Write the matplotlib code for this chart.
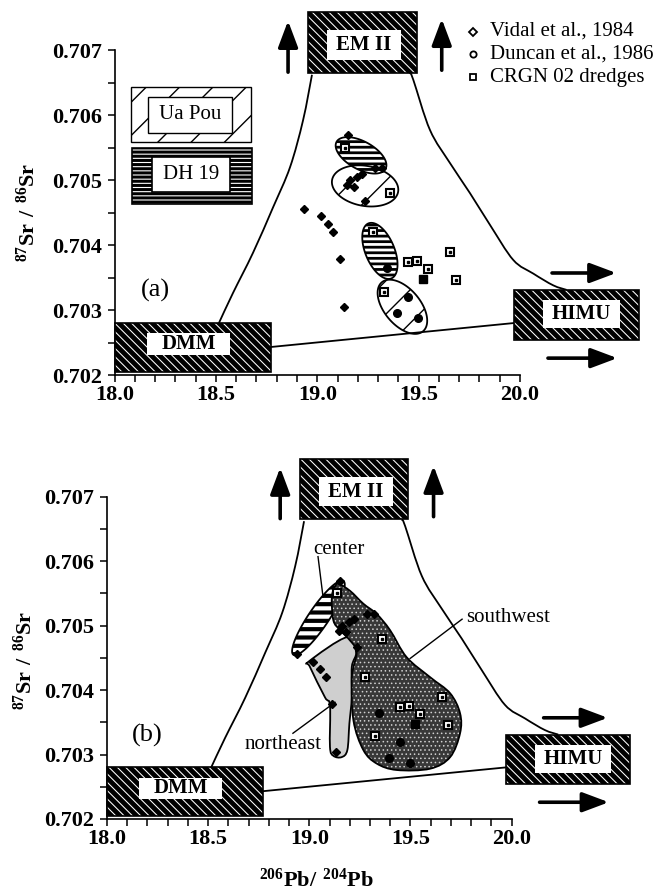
import numpy as np
import matplotlib
matplotlib.use('Agg')
from matplotlib import pyplot as plt
from matplotlib.patches import Rectangle, PathPatch
from matplotlib.path import Path
from matplotlib.ticker import MultipleLocator, FormatStrFormatter

plt.rcParams['font.family'] = ['Liberation Serif', 'DejaVu Serif']
plt.rcParams['mathtext.fontset'] = 'custom'
plt.rcParams['mathtext.rm'] = 'Liberation Serif'
plt.rcParams['mathtext.bf'] = 'Liberation Serif:bold'
plt.rcParams['hatch.linewidth'] = 1.0

# ---- samples (206Pb/204Pb, 87Sr/86Sr)
vidal_pb = [19.151, 18.937, 19.020, 19.051, 19.080, 19.113, 19.134, 19.163,
            19.196, 19.220, 19.146, 19.179, 19.236, 19.286, 19.319]
vidal_sr = [0.70569, 0.70456, 0.70444, 0.70432, 0.70420, 0.70378, 0.70304, 0.70500,
            0.70505, 0.70510, 0.70492, 0.70490, 0.70467, 0.70518, 0.70518]
duncan_pb = [19.450, 19.395, 19.499, 19.343]
duncan_sr = [0.70320, 0.70295, 0.70287, 0.70364]
crgn_pb = [19.138, 19.277, 19.655, 19.450, 19.491, 19.548, 19.683, 19.327, 19.360]
crgn_sr = [0.70550, 0.70420, 0.70390, 0.70374, 0.70375, 0.70363, 0.70346, 0.70328, 0.70480]
crgn_solid_pb = [19.524]
crgn_solid_sr = [0.70348]
legend_labels = ['Vidal et al., 1984', 'Duncan et al., 1986', 'CRGN 02 dredges']

# ---- mantle end-members: outer box and inner label box (x0, x1, y0, y1)
em2_box = [18.956, 19.490, 0.70665, 0.70758]
em2_inner = [19.048, 19.413, 0.70685, 0.70731]
himu_box = [19.970, 20.586, 0.70254, 0.70331]
himu_inner = [20.113, 20.493, 0.70272, 0.70315]
dmm_box = [18.000, 18.770, 0.70205, 0.70280]
dmm_inner = [18.159, 18.570, 0.70231, 0.70264]

# ---- pattern key boxes (panel a)
uapou_box = [18.081, 18.673, 0.70559, 0.70643]
uapou_inner = [18.167, 18.578, 0.70573, 0.70628]
dh19_box = [18.085, 18.677, 0.70463, 0.70549]
dh19_inner = [18.183, 18.570, 0.70481, 0.70536]

# ---- mixing curves
em2_dmm_pb = [18.515, 18.584, 18.683, 18.782, 18.866, 18.930, 18.974]
em2_dmm_sr = [0.70280, 0.70326, 0.70388, 0.70458, 0.70520, 0.70592, 0.70662]
em2_himu_pb = [19.457, 19.474, 19.556, 19.655, 19.753, 19.852, 19.967, 20.066, 20.164, 20.230]
em2_himu_sr = [0.70665, 0.70654, 0.70577, 0.70526, 0.70480, 0.70431, 0.70377, 0.70356, 0.70338, 0.70331]
dmm_himu_pb = [18.767, 19.970]
dmm_himu_sr = [0.70243, 0.70280]

# ---- fields of panel (a): centre, two half axes
fields_a = {
    'dh19_upper': ([19.216, 0.70538], [0.1208, -0.000208], [-0.0330, -0.000188]),
    'uapou_upper': ([19.236, 0.70491], [0.1628, -0.0000923], [-0.0178, -0.000303]),
    'dh19_lower': ([19.309, 0.70391], [0.0567, -0.000423], [-0.0660, -0.0000862]),
    'uapou_lower': ([19.420, 0.70305], [0.1016, -0.000377], [-0.0681, -0.000178]),
}

# ---- fields of panel (b)
center_field = ([19.045, 0.70512], [0.1236, 0.000573], [0.0410, -0.0000870])
northeast_pb = [19.000, 19.185, 19.231, 19.210, 19.210, 19.198, 19.188, 19.160,
                19.119, 19.102, 19.102, 19.077, 19.003]
northeast_sr = [0.70445, 0.70482, 0.70459, 0.70436, 0.70389, 0.70348, 0.70307, 0.70296,
                0.70298, 0.70312, 0.70376, 0.70389, 0.70436]
southwest_pb = [19.143, 19.201, 19.267, 19.333, 19.399, 19.481, 19.597, 19.696, 19.745,
                19.745, 19.696, 19.597, 19.432, 19.333, 19.267, 19.218, 19.210, 19.234,
                19.201, 19.152, 19.119, 19.111, 19.127]
southwest_sr = [0.70565, 0.70554, 0.70534, 0.70518, 0.70493, 0.70451, 0.70420, 0.70395, 0.70364,
                0.70333, 0.70296, 0.70278, 0.70276, 0.70286, 0.70307, 0.70353, 0.70420, 0.70459,
                0.70477, 0.70493, 0.70508, 0.70544, 0.70560]


def ellipse_path(c, u, v, n=120):
    t = np.linspace(0, 2 * np.pi, n)
    x = c[0] + u[0] * np.cos(t) + v[0] * np.sin(t)
    y = c[1] + u[1] * np.cos(t) + v[1] * np.sin(t)
    return Path(np.column_stack([x, y]), closed=True)


def smooth_path(xs, ys, closed=True):
    pts = np.column_stack([xs, ys])
    n = len(pts)
    verts, codes = [pts[0]], [Path.MOVETO]
    last = n if closed else n - 1
    for i in range(last):
        p0 = pts[i - 1] if (closed or i > 0) else pts[i]
        p1, p2 = pts[i], pts[(i + 1) % n]
        p3 = pts[(i + 2) % n] if (closed or i + 2 < n) else p2
        verts += [p1 + (p2 - p0) / 6, p2 - (p3 - p1) / 6, p2]
        codes += [Path.CURVE4] * 3
    return Path(verts, codes)


def hatch_width(patch, lw):
    if hasattr(patch, 'set_hatch_linewidth'):
        patch.set_hatch_linewidth(lw)
    return patch


def add_field(ax, path, fc='white', hatch=None, hatch_color='black', hlw=1.0, z=2):
    p = PathPatch(path, fc=fc, ec=hatch_color, lw=0, hatch=hatch, zorder=z)
    ax.add_patch(hatch_width(p, hlw))
    ax.add_patch(PathPatch(path, fc='none', ec='black', lw=1.3, zorder=z + 0.1))


def rect(ax, box, hlw=None, **kw):
    x0, x1, y0, y1 = box
    r = Rectangle((x0, y0), x1 - x0, y1 - y0, clip_on=False, **kw)
    if hlw is not None:
        hatch_width(r, hlw)
    ax.add_patch(r)
    return r


def endmember(ax, box, inner, label):
    rect(ax, box, fc='black', ec='none', zorder=5)
    rect(ax, box, fc='none', ec='white', lw=0, hatch='\\\\\\\\', hlw=0.75, zorder=5.1)
    rect(ax, box, fc='none', ec='black', lw=1.2, zorder=5.2)
    rect(ax, inner, fc='white', ec='none', zorder=5.3)
    ax.text((inner[0] + inner[1]) / 2, (inner[2] + inner[3]) / 2, label, ha='center',
            va='center', fontsize=15, fontweight='bold', zorder=6)


def arrow(ax, tail, tip):
    ax.annotate('', xy=tip, xytext=tail, annotation_clip=False,
                arrowprops=dict(arrowstyle='-|>,head_length=0.8,head_width=0.3', lw=2.6,
                                color='black', mutation_scale=20, shrinkA=0, shrinkB=0))


def draw_points(ax):
    ax.plot(vidal_pb, vidal_sr, 'D', ms=4.2, color='black', zorder=8)
    ax.plot(duncan_pb, duncan_sr, 'o', ms=5.5, color='black', zorder=8)
    ax.plot(crgn_pb, crgn_sr, 's', ms=6, mfc='white', mec='black', mew=1.5, zorder=8)
    ax.plot(crgn_pb, crgn_sr, 's', ms=1.8, color='black', zorder=8.1)
    ax.plot(crgn_solid_pb, crgn_solid_sr, 's', ms=6, color='black', zorder=8)


def frame(ax, tag):
    ax.set_xlim(18.0, 20.0)
    ax.set_ylim(0.702, 0.707)
    ax.spines['top'].set_visible(False)
    ax.spines['right'].set_visible(False)
    for s in ('left', 'bottom'):
        ax.spines[s].set_linewidth(1.2)
    ax.xaxis.set_major_locator(MultipleLocator(0.5))
    ax.xaxis.set_minor_locator(MultipleLocator(0.1))
    ax.yaxis.set_major_locator(MultipleLocator(0.001))
    ax.yaxis.set_minor_locator(MultipleLocator(0.0005))
    ax.xaxis.set_major_formatter(FormatStrFormatter('%.1f'))
    ax.yaxis.set_major_formatter(FormatStrFormatter('%.3f'))
    ax.tick_params(which='both', direction='out', length=5, width=1.1)
    ax.tick_params(axis='x', pad=2)
    ax.tick_params(axis='y', pad=4)
    for lab in ax.get_xticklabels() + ax.get_yticklabels():
        lab.set_fontsize(16)
        lab.set_fontweight('bold')
    ax.text(18.2, 0.7033, tag, fontsize=19, ha='center', va='center')

    for xs, ys in ((em2_dmm_pb, em2_dmm_sr), (em2_himu_pb, em2_himu_sr)):
        ax.add_patch(PathPatch(smooth_path(xs, ys, closed=False), fc='none', ec='black',
                               lw=1.3, zorder=4, clip_on=False))
    ax.plot(dmm_himu_pb, dmm_himu_sr, color='black', lw=1.3, zorder=4, clip_on=False)

    endmember(ax, em2_box, em2_inner, 'EM II')
    endmember(ax, himu_box, himu_inner, 'HIMU')
    endmember(ax, dmm_box, dmm_inner, 'DMM')
    arrow(ax, (18.856, 0.70666), (18.856, 0.70745))
    arrow(ax, (19.614, 0.70669), (19.614, 0.70748))
    arrow(ax, (20.158, 0.70357), (20.475, 0.70357))
    arrow(ax, (20.138, 0.70226), (20.480, 0.70226))


fig = plt.figure(figsize=(6.72, 8.94), dpi=100)
ax_a = fig.add_axes([0.1704, 0.5805, 0.6034, 0.3635])
ax_b = fig.add_axes([0.1592, 0.0839, 0.6022, 0.3605])

# ---------- panel (a)
frame(ax_a, '(a)')
add_field(ax_a, ellipse_path(*fields_a['uapou_upper']), hatch='/')
add_field(ax_a, ellipse_path(*fields_a['dh19_upper']), hatch='---', hlw=2.0)
add_field(ax_a, ellipse_path(*fields_a['dh19_lower']), hatch='---', hlw=2.0)
add_field(ax_a, ellipse_path(*fields_a['uapou_lower']), hatch='/')
draw_points(ax_a)

rect(ax_a, uapou_box, fc='white', ec='black', lw=1.0, hatch='/', zorder=5)
rect(ax_a, uapou_inner, fc='white', ec='black', lw=1.0, zorder=5.1)
ax_a.text((uapou_inner[0] + uapou_inner[1]) / 2, (uapou_inner[2] + uapou_inner[3]) / 2,
          'Ua Pou', ha='center', va='center', fontsize=15, zorder=6)
rect(ax_a, dh19_box, fc='white', ec='black', lw=1.2, hatch='----', hlw=2.2, zorder=5)
rect(ax_a, dh19_inner, fc='white', ec='black', lw=1.2, zorder=5.1)
ax_a.text((dh19_inner[0] + dh19_inner[1]) / 2, (dh19_inner[2] + dh19_inner[3]) / 2,
          'DH 19', ha='center', va='center', fontsize=15, zorder=6)

# legend
leg_y = [0.707285, 0.706938, 0.706585]
leg_marker = ['D', 'o', 's']
for yy, mk, lab in zip(leg_y, leg_marker, legend_labels):
    ax_a.plot([19.768], [yy], mk, ms=4.5, mfc='white', mec='black', mew=1.3, clip_on=False)
    ax_a.text(19.852, yy, lab, fontsize=15, ha='left', va='center')

# ---------- panel (b)
frame(ax_b, '(b)')
add_field(ax_b, ellipse_path(*center_field), hatch='--', hlw=3.0, z=2)
add_field(ax_b, smooth_path(northeast_pb, northeast_sr), fc='#cfcfcf', hatch_color='#cfcfcf', z=2.5)
add_field(ax_b, smooth_path(southwest_pb, southwest_sr), fc='#383838', hatch='....',
          hatch_color='#d0d0d0', hlw=0.6, z=3)
draw_points(ax_b)

ax_b.plot([19.043, 19.068], [0.70607, 0.70544], color='black', lw=1.0, zorder=7)
ax_b.text(19.147, 0.70618, 'center', fontsize=15, ha='center', va='center')
ax_b.plot([19.755, 19.498], [0.70510, 0.70449], color='black', lw=1.0, zorder=7)
ax_b.text(19.775, 0.70513, 'southwest', fontsize=15, ha='left', va='center')
ax_b.plot([18.919, 19.127], [0.70333, 0.70381], color='black', lw=1.0, zorder=7)
ax_b.text(18.870, 0.70315, 'northeast', fontsize=15, ha='center', va='center')

sr_label = r'$\mathbf{^{87}Sr\ /\ ^{86}Sr}$'
fig.text(28 / 672, 1 - 212 / 894, sr_label, rotation=90, fontsize=16, ha='center', va='center')
fig.text(25 / 672, 1 - 660 / 894, sr_label, rotation=90, fontsize=16, ha='center', va='center')
fig.text(316 / 672, 1 - 880 / 894, r'$\mathbf{^{206}Pb/\ ^{204}Pb}$', fontsize=16,
         ha='center', va='center')

fig.savefig('out.png', dpi=100)
